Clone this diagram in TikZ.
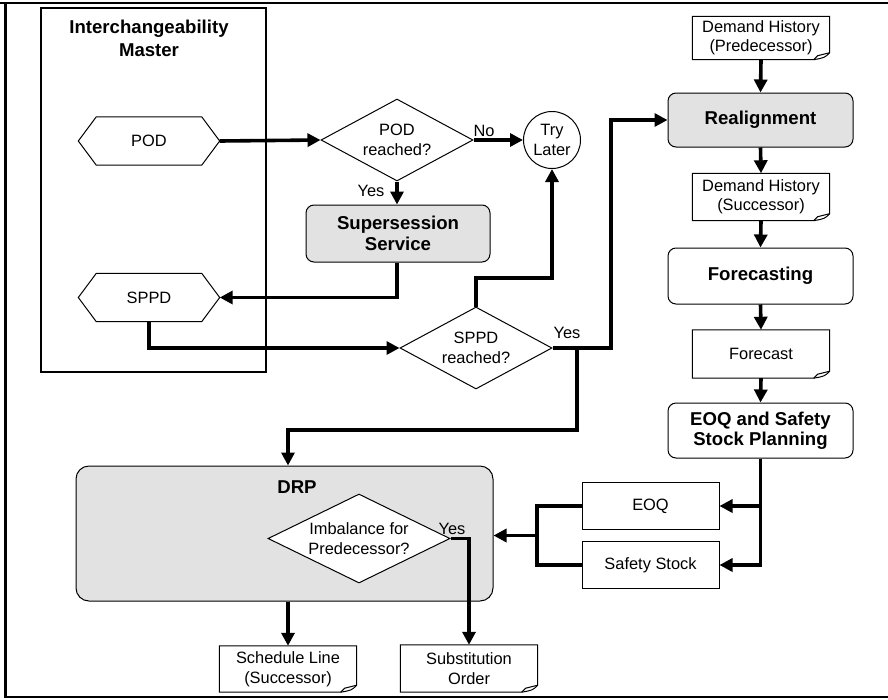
\documentclass[tikz,border=0pt]{standalone}
\usepackage{fontspec}
\setmainfont{Liberation Sans}
\usetikzlibrary{arrows.meta,shapes.geometric}
\definecolor{boxgray}{RGB}{226,226,226}
% document symbol: box with a folded lower right corner
\newcommand\docoutline[1]{%
  \draw[thinline] (#1.north west) -- (#1.north east) -- ([yshift=7pt]#1.south east)
    .. controls ([xshift=-5pt,yshift=2pt]#1.south east) .. ([xshift=-16pt]#1.south east)
    -- (#1.south west) -- cycle;
  \draw[thinline] ([xshift=-16pt]#1.south east) -- ([xshift=-12pt,yshift=4pt]#1.south east)
    -- ([yshift=7pt]#1.south east);}
% data symbol: flat hexagon
\newcommand\hexoutline[1]{%
  \draw[thinline] ([xshift=18pt]#1.north west) -- ([xshift=-18pt]#1.north east) -- (#1.east)
    -- ([xshift=-18pt]#1.south east) -- ([xshift=18pt]#1.south west) -- (#1.west) -- cycle;}
\begin{document}
\begin{tikzpicture}[x=1pt,y=-1pt,
  thinline/.style={line width=1pt, line join=miter},
  txt/.style={font=\fontsize{16.4}{19.5}\selectfont, align=center},
  btxt/.style={font=\fontsize{18.6}{21.5}\selectfont\bfseries, align=center},
  proc/.style={draw, line width=1pt, rounded corners=8pt, btxt, inner sep=0pt,
    minimum width=185pt},
  gproc/.style={proc, fill=boxgray},
  docnode/.style={txt, inner sep=0pt, minimum width=137pt},
  plainbox/.style={draw, line width=1pt, txt, inner sep=0pt, minimum width=137pt,
    minimum height=47pt},
  hexnode/.style={txt, inner sep=0pt, minimum width=141pt, minimum height=48pt},
  decision/.style={diamond, draw, line width=1pt, fill=white, inner sep=0pt},
  conn/.style={line width=3.6pt, -{Triangle[length=13pt,width=13pt]}},
  link/.style={line width=3.6pt},
  frameline/.style={line width=2.3pt}]
\useasboundingbox (0,0) rectangle (888,699);

% page frame
\draw[frameline] (0,3) -- (888,3);
\draw[frameline] (5.5,3) -- (5.5,697) -- (888,697);

% interchangeability master
\node[draw, line width=2.6pt, minimum width=225pt, minimum height=364pt] (master) at (153.5,190) {};
\node[btxt, font=\fontsize{18.6}{23}\selectfont\bfseries] (mastertitle) at (149,38.5) {Interchangeability\\Master};
\node[hexnode] (pod) at (149,141) {POD};
\hexoutline{pod}
\node[hexnode] (sppd) at (149,297.5) {SPPD};
\hexoutline{sppd}

% decisions and supersession
\node[decision, minimum width=152pt, minimum height=82pt,
  label={[txt]center:POD\\reached?}] (podd) at (397,140) {};
\node[circle, draw, line width=1pt, minimum size=57pt, inner sep=0pt, txt] (try) at (552,140) {Try\\Later};
\node[gproc, minimum width=184pt, minimum height=57pt] (super) at (398,233.5) {Supersession\\Service};
\node[decision, minimum width=152pt, minimum height=82pt,
  label={[txt]center:SPPD\\reached?}] (sppdd) at (476,348) {};

% right column
\node[docnode, minimum height=43pt] (dhp) at (761,38) {Demand History\\(Predecessor)};
\docoutline{dhp}
\node[gproc, minimum height=54pt] (realign) at (760.5,120) {Realignment};
\node[docnode, minimum height=47pt] (dhs) at (761,197) {Demand History\\(Successor)};
\docoutline{dhs}
\node[proc, minimum height=56pt] (fcing) at (760.5,276) {Forecasting};
\node[docnode, minimum height=48pt] (fc) at (761,354) {Forecast};
\docoutline{fc}
\node[proc, minimum height=55pt, font=\fontsize{18.6}{20}\selectfont\bfseries] (plan) at (760.5,430.5) {EOQ and Safety\\Stock Planning};
\node[plainbox] (eoq) at (650.5,506) {EOQ};
\node[plainbox] (ss) at (650.5,565) {Safety Stock};

% DRP
\node[draw, line width=1pt, fill=boxgray, rounded corners=13pt, minimum width=417pt,
  minimum height=135pt] (drp) at (284.5,533.5) {};
\node[btxt] (drptitle) at (297,487) {DRP};
\node[decision, minimum width=182pt, minimum height=89pt,
  label={[txt]center:Imbalance for\\Predecessor?}] (imb) at (359,538.5) {};

% outputs
\node[docnode, minimum height=46pt] (sched) at (288,669) {Schedule Line\\(Successor)};
\docoutline{sched}
\node[docnode, minimum height=47pt] (subst) at (469,668.5) {Substitution\\Order};
\docoutline{subst}

% branch labels
\node[txt] (lno) at (484,131) {No};
\node[txt] (lyes1) at (371,191) {Yes};
\node[txt] (lyes2) at (567,333) {Yes};
\node[txt] (lyes3) at (452,529) {Yes};

% bend points
\coordinate (upbend) at (476,278);
\coordinate (yesjoin) at (577,348);
\coordinate (yesright) at (611,348);
\coordinate (downbend) at (577,430);
\coordinate (supbend) at (397,297.5);
\coordinate (sppdbend) at (149,348);
\coordinate (mergejoin) at (537,535.5);

% connectors
\draw[conn] (pod.east) -- (podd.west);
\draw[conn] (podd.east) -- (try.west);
\draw[conn] (podd.south) -- (super.north -| podd.south);
\draw[conn] (super.south -| supbend) -- (supbend) -- (sppd.east);
\draw[conn] (sppd.south) -- (sppdbend) -- (sppdd.west);
\draw[conn] (sppdd.north) -- (upbend) -| (try.south);
\draw[conn] (sppdd.east) -- (yesright) |- (realign.west);
\draw[conn] (yesjoin) -- (downbend) -| (sched.north |- drp.north);
\draw[conn] (dhp.south) -- (realign.north);
\draw[conn] (realign.south) -- (dhs.north);
\draw[conn] (dhs.south) -- (fcing.north);
\draw[conn] (fcing.south) -- (fc.north);
\draw[conn] (fc.south) -- (plan.north);
\draw[conn] (plan.south) |- (eoq.east);
\draw[conn] (plan.south) |- (ss.east);
\draw[link] (eoq.west) -| (mergejoin);
\draw[link] (ss.west) -| (mergejoin);
\draw[conn] (mergejoin) -- (drp.east |- mergejoin);
\draw[conn] (imb.east) -| (subst.north);
\draw[conn] (sched.north |- drp.south) -- (sched.north);
\end{tikzpicture}
\end{document}
